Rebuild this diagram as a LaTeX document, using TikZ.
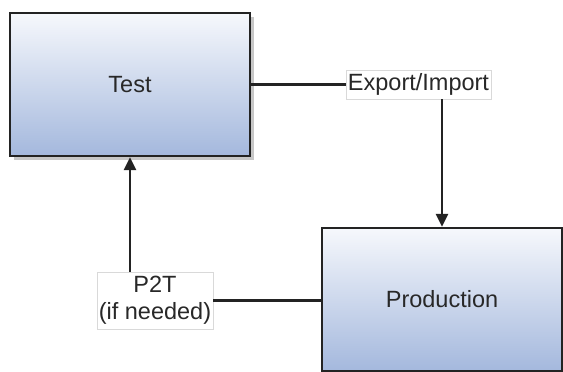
\documentclass[tikz,border=0pt]{standalone}
\usepackage{fontspec}
\setmainfont{Liberation Sans}
\usetikzlibrary{arrows.meta,shadows}
\definecolor{topc}{RGB}{246,248,252}
\definecolor{botc}{RGB}{164,184,221}
\definecolor{edge}{RGB}{35,35,35}
\definecolor{txt}{RGB}{40,40,40}
\tikzset{
  envbox/.style={rectangle, draw=edge, line width=2.3pt, top color=topc, bottom color=botc,
    minimum width=240pt, minimum height=143pt, inner sep=0pt,
    drop shadow={shadow xshift=4pt, shadow yshift=-4pt, fill=black!22, opacity=1},
    font=\fontsize{23.5}{27}\selectfont, text=txt},
  lbl/.style={rectangle, draw=black!15, line width=0.6pt, fill=white, inner sep=0pt,
    font=\fontsize{23.5}{27}\selectfont, text=txt, align=center},
  conn/.style={draw=edge, line width=2.3pt},
  arr/.style={conn, -{Triangle[length=13pt,width=12pt]}}
}
\begin{document}
\begin{tikzpicture}[x=1pt,y=-1pt]
\useasboundingbox (0,0) rectangle (563,372);
\node[envbox] (test) at (130,84.5) {Test};
\node[envbox] (prod) at (442,299.5) {Production};
\node[lbl, minimum width=145pt, minimum height=29pt] (exp) at (418.5,84.5) {Export/Import};
\node[lbl, minimum width=116pt, minimum height=57pt] (p2t) at (155,300.5) {P2T\\(if needed)};
\draw[conn] (test.east) -- (exp.west);
\draw[arr] (exp.south -| prod.north) -- (prod.north);
\draw[conn] (p2t.east) -- (p2t.east -| prod.west);
\draw[arr] (p2t.north -| test.south) -- (test.south);
\end{tikzpicture}
\end{document}
